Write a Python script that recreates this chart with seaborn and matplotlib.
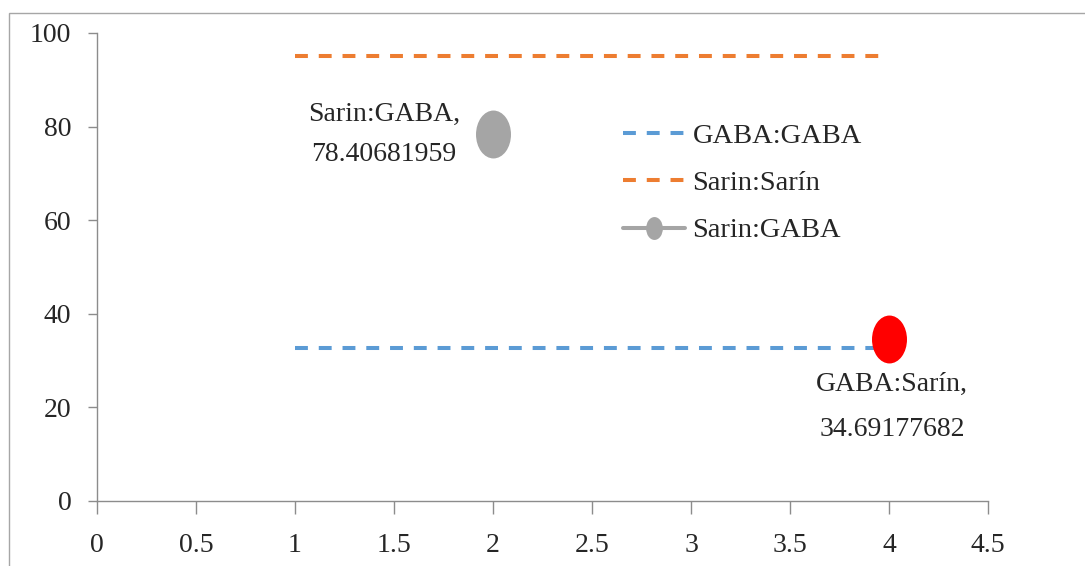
import matplotlib
matplotlib.use("Agg")
import matplotlib.pyplot as plt
import seaborn as sns
from matplotlib.path import Path
from matplotlib.patches import Rectangle
from matplotlib.transforms import Affine2D
from matplotlib.ticker import FuncFormatter

# data
line_x = [1, 4]
gaba_gaba = [32.6, 32.6]
sarin_sarin = [95.0, 95.0]
sarin_gaba_x = [2]
sarin_gaba_y = [78.40681959]
gaba_sarin_x = [4]
gaba_sarin_y = [34.69177682]
x_ticks = [0, 0.5, 1, 1.5, 2, 2.5, 3, 3.5, 4, 4.5]
y_ticks = [0, 20, 40, 60, 80, 100]

sns.set_style("white")
plt.rcParams["font.family"] = ["Liberation Serif", "DejaVu Serif"]

BLUE = "#5B9BD5"
ORANGE = "#ED7D31"
GRAY = "#A5A5A5"
RED = "#FF0000"
AXIS_GRAY = "#8C8C8C"

# ellipse marker, taller than wide like in the reference
ellipse = Path.unit_circle().transformed(Affine2D().scale(0.73, 1.0))

fig = plt.figure(figsize=(10.85, 5.66), dpi=100)
ax = fig.add_axes([97 / 1085, 1 - 501 / 566, 891 / 1085, 468 / 566])

# outer chart border (only left/top visible in the crop)
fig.patches.append(Rectangle((9 / 1085, -0.2), 1.3, 1.2 - 13 / 566,
                             transform=fig.transFigure, fill=False,
                             edgecolor="#A6A6A6", lw=1.0))

dash = (0, (3.2, 2.7))
sns.lineplot(x=line_x, y=gaba_gaba, ax=ax, color=BLUE, lw=2.9,
             linestyle=dash, label="GABA:GABA")
sns.lineplot(x=line_x, y=sarin_sarin, ax=ax, color=ORANGE, lw=2.9,
             linestyle=dash, label="Sarin:Sar\u00edn")
sns.lineplot(x=sarin_gaba_x, y=sarin_gaba_y, ax=ax, color=GRAY, lw=2.9,
             marker=ellipse, markersize=34.5, markeredgewidth=0,
             label="Sarin:GABA")
sns.lineplot(x=gaba_sarin_x, y=gaba_sarin_y, ax=ax, color=RED, lw=0,
             marker=ellipse, markersize=34.5, markeredgewidth=0,
             legend=False)

# data labels
ax.annotate(f"Sarin:GABA,\n{sarin_gaba_y[0]:.8f}",
            xy=(sarin_gaba_x[0], sarin_gaba_y[0]),
            xytext=(-33, 0), textcoords="offset pixels",
            ha="right", va="center", multialignment="center",
            fontsize=20, linespacing=1.8)
ax.annotate(f"GABA:Sar\u00edn,\n{gaba_sarin_y[0]:.8f}",
            xy=(gaba_sarin_x[0], gaba_sarin_y[0]),
            xytext=(3, -33), textcoords="offset pixels",
            ha="center", va="top", multialignment="center",
            fontsize=20, linespacing=2.05)

ax.set_xlim(0, 4.5)
ax.set_ylim(0, 100)
ax.set_xticks(x_ticks)
ax.set_yticks(y_ticks)
ax.xaxis.set_major_formatter(FuncFormatter(lambda v, p: f"{v:g}"))
ax.tick_params(axis="x", direction="out", length=9, width=1,
               color=AXIS_GRAY, pad=14, labelsize=20, bottom=True)
ax.tick_params(axis="y", direction="out", length=6.5, width=1,
               color=AXIS_GRAY, pad=12, labelsize=20, left=True)
for side in ["top", "right"]:
    ax.spines[side].set_visible(False)
for side in ["left", "bottom"]:
    ax.spines[side].set_color(AXIS_GRAY)
    ax.spines[side].set_linewidth(1)
ax.set_xlabel("")
ax.set_ylabel("")
ax.grid(False)

leg = ax.legend(loc="center left", bbox_to_anchor=(0.59, 0.679),
                frameon=False, fontsize=20.5, handlelength=2.2,
                handletextpad=0.25, labelspacing=0.75, borderpad=0,
                borderaxespad=0)
leg.legend_handles[2].set_markersize(16.5)

fig.savefig("out.png", dpi=100)
